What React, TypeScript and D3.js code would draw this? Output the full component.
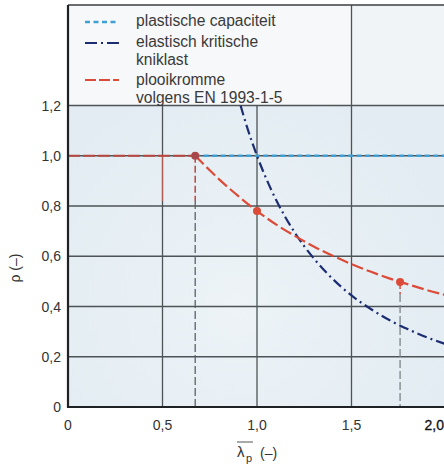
import React from "react";
import * as d3 from "d3";

// Slenderness values (λp) and reduction factors (ρ)
const plateauLambda = [0, 0.673];
const plateauRho = [1.0, 1.0];

const plasticLambda = [0.673, 2.1];
const plasticRho = [1.0, 1.0];

const elasticLambda = [0.913, 0.95, 1.0, 1.05, 1.1, 1.2, 1.3, 1.4, 1.5, 1.6, 1.7, 1.8, 1.9, 2.0, 2.1];
const elasticRho = [1.2, 1.108, 1.0, 0.907, 0.826, 0.694, 0.592, 0.51, 0.444, 0.391, 0.346, 0.309, 0.277, 0.25, 0.227];

const bucklingLambda = [0.673, 0.75, 0.8, 0.9, 1.0, 1.1, 1.2, 1.3, 1.4, 1.5, 1.6, 1.7, 1.8, 1.9, 2.0, 2.1];
const bucklingRho = [1.0, 0.942, 0.906, 0.84, 0.78, 0.727, 0.681, 0.639, 0.602, 0.569, 0.539, 0.512, 0.488, 0.465, 0.445, 0.426];

const markerLambda = [0.673, 1.0, 1.757];
const markerRho = [1.0, 0.78, 0.498];

const xTicks = [0, 0.5, 1.0, 1.5, 2.0];
const xTickLabels = ["0", "0,5", "1,0", "1,5", "2,0"];
const yTicks = [0, 0.2, 0.4, 0.6, 0.8, 1.0, 1.2];
const yTickLabels = ["0", "0,2", "0,4", "0,6", "0,8", "1,0", "1,2"];

const legendLabels = [
  ["plastische capaciteit"],
  ["elastisch kritische", "kniklast"],
  ["plooikromme", "volgens EN 1993-1-5"],
];

const W = 444;
const H = 468;
const left = 68;
const right = 446;
const top = 5;
const bottom = 407;

const BLUE = "#3fa0d6";
const NAVY = "#1d2d72";
const RED = "#dc4a38";
const RED_DARK = "#b9473f";
const GRID = "#4d5356";
const FONT = "'Liberation Sans', Arial, sans-serif";

export default function App() {
  const x = d3.scaleLinear().domain([0, 2.0]).range([left, right]);
  const y = d3.scaleLinear().domain([0, 1.6]).range([bottom, top]);

  const line = d3
    .line<[number, number]>()
    .x((d) => x(d[0]))
    .y((d) => y(d[1]))
    .curve(d3.curveMonotoneX);

  const zip = (a: number[], b: number[]) => a.map((v, i) => [v, b[i]] as [number, number]);

  const legendBottom = y(1.2);
  const legendRight = x(1.5);

  return (
    <svg width={W} height={H} style={{ display: "block", position: "absolute", left: 0, top: 0 }} fontFamily={FONT}>
      <defs>
        <clipPath id="plot">
          <rect x={left} y={top} width={W - left} height={bottom - top} />
        </clipPath>
        <radialGradient id="haze" cx="0.45" cy="0.75" r="0.6">
          <stop offset="0" stopColor="#edf3f7" />
          <stop offset="1" stopColor="#e2ecf2" />
        </radialGradient>
      </defs>
      <rect x={0} y={0} width={W} height={H} fill="#ffffff" />

      {/* plot background */}
      <rect x={left} y={top} width={W - left} height={bottom - top} fill="url(#haze)" />
      <rect x={left} y={top} width={legendRight - left} height={legendBottom - top} fill="#f7f8f9" />
      <rect x={legendRight} y={top} width={W - legendRight} height={legendBottom - top} fill="#f0f4f6" />

      <g clipPath="url(#plot)">
        {/* grid */}
        {yTicks.filter((t) => t > 0).map((t) => (
          <line key={"gy" + t} x1={left} x2={W} y1={y(t)} y2={y(t)} stroke={GRID} strokeWidth={1.3} />
        ))}
        {xTicks.filter((t) => t > 0).map((t) => (
          <line
            key={"gx" + t}
            x1={x(t)}
            x2={x(t)}
            y1={t >= 1.5 ? top : legendBottom}
            y2={bottom}
            stroke={GRID}
            strokeWidth={1.3}
          />
        ))}

        {/* drop lines */}
        <line x1={x(0.5)} x2={x(0.5)} y1={y(1.0)} y2={y(0.82)} stroke="#b25a56" strokeWidth={1.2} />
        <line x1={x(0.673)} x2={x(0.673)} y1={y(1.0)} y2={y(0.82)} stroke={RED_DARK} strokeWidth={1.5} strokeDasharray="7,3" />
        <line x1={x(0.673)} x2={x(0.673)} y1={y(0.82)} y2={bottom} stroke="#5a6266" strokeWidth={1.3} strokeDasharray="8,3" />
        <line x1={x(1.757)} x2={x(1.757)} y1={y(0.498)} y2={y(0.45)} stroke={RED} strokeWidth={1.5} strokeDasharray="7,3" />
        <line x1={x(1.757)} x2={x(1.757)} y1={y(0.45)} y2={bottom} stroke="#7d8589" strokeWidth={1.3} strokeDasharray="8,3" />

        {/* plastic capacity */}
        <path d={line(zip(plasticLambda, plasticRho)) || ""} fill="none" stroke={BLUE} strokeWidth={2.4} strokeDasharray="5,3.5" />
        {/* plateau of buckling curve */}
        <path d={line(zip(plateauLambda, plateauRho)) || ""} fill="none" stroke={RED_DARK} strokeWidth={2.2} strokeDasharray="12,3" />
        {/* elastic critical load */}
        <path d={line(zip(elasticLambda, elasticRho)) || ""} fill="none" stroke={NAVY} strokeWidth={2.2} strokeDasharray="10,4,2,4" />
        {/* buckling curve */}
        <path d={line(zip(bucklingLambda, bucklingRho)) || ""} fill="none" stroke={RED} strokeWidth={2.2} strokeDasharray="12,4" />

        {markerLambda.map((l, i) => (
          <circle key={"m" + i} cx={x(l)} cy={y(markerRho[i])} r={4} fill={i === 0 ? "#a8474a" : RED} />
        ))}
      </g>

      {/* frame */}
      <line x1={left} x2={W} y1={top} y2={top} stroke="#3a3f42" strokeWidth={1.6} />
      <line x1={left} x2={left} y1={top} y2={bottom + 1} stroke="#1e2224" strokeWidth={2.2} />
      <line x1={left - 1} x2={W} y1={bottom} y2={bottom} stroke="#1e2224" strokeWidth={2.2} />

      {/* legend */}
      <line x1={85} x2={119} y1={22} y2={22} stroke={BLUE} strokeWidth={2.4} strokeDasharray="5,3.5" />
      <line x1={85} x2={119} y1={43} y2={43} stroke={NAVY} strokeWidth={2.2} strokeDasharray="12,4,2,4" />
      <line x1={85} x2={119} y1={80} y2={80} stroke={RED} strokeWidth={2.2} strokeDasharray="11,3" />
      {legendLabels.map((lines, i) =>
        lines.map((t, j) => (
          <text
            key={"l" + i + j}
            x={136}
            y={[26, 47, 85][i] + j * 18}
            fontSize={15.6}
            fill="#3a3a3a"
          >
            {t}
          </text>
        ))
      )}

      {/* y ticks */}
      {yTicks.map((t, i) => (
        <text key={"yt" + t} x={61} y={y(t) + 5} textAnchor="end" fontSize={14} fill="#333">
          {yTickLabels[i]}
        </text>
      ))}
      {/* x ticks */}
      {xTicks.map((t, i) => (
        <text
          key={"xt" + t}
          x={i === xTicks.length - 1 ? 444 : x(t)}
          y={430}
          textAnchor={i === xTicks.length - 1 ? "end" : "middle"}
          fontSize={14}
          fill={i === xTicks.length - 1 ? "#111" : "#333"}
          stroke={i === xTicks.length - 1 ? "#111" : "none"}
          strokeWidth={0.3}
        >
          {xTickLabels[i]}
        </text>
      ))}

      {/* axis titles */}
      <text transform="translate(20,268) rotate(-90)" textAnchor="middle" fontSize={14} fill="#333">
        ρ (–)
      </text>
      <g fill="#333" fontSize={15}>
        <line x1={237} x2={253} y1={442} y2={442} stroke="#555" strokeWidth={1} />
        <text x={237} y={457}>λ</text>
        <text x={246} y={462} fontSize={11}>p</text>
        <text x={260} y={458} fontSize={14}>(–)</text>
      </g>
    </svg>
  );
}
